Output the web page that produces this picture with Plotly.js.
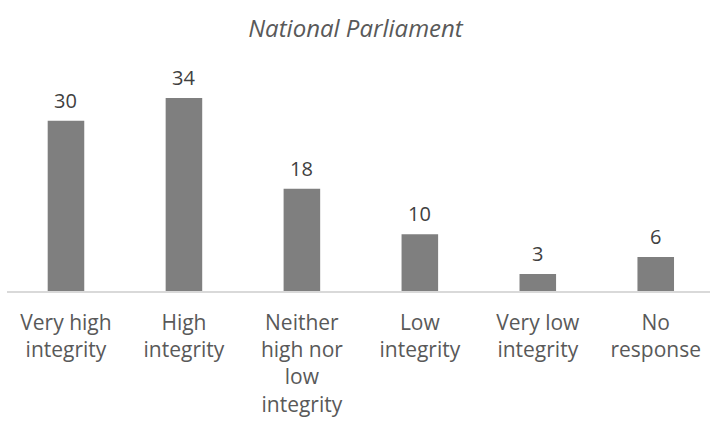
<!DOCTYPE html>
<html><head><meta charset="utf-8">
<script src="https://cdn.plot.ly/plotly-3.0.1.min.js"></script>
<style>html,body{margin:0;padding:0;background:#fff;overflow:hidden}</style>
</head><body><div id="chart" style="width:711px;height:423px"></div>
<script>
var categories = ["Very high<br>integrity","High<br>integrity","Neither<br>high nor<br>low<br>integrity","Low<br>integrity","Very low<br>integrity","No<br>response"];
var values = [30, 34, 18, 10, 3, 6];
var titleText = "National Parliament";

var font = "Open Sans, Liberation Sans, sans-serif";
var annotations = values.map(function(v, i){
  return {x: i, y: v, xref: 'x', yref: 'y', text: String(v), showarrow: false,
    yanchor: 'bottom', yshift: 5, font: {family: font, size: 20, color: '#404040'}};
});

Plotly.newPlot('chart', [{
  type: 'bar', x: [0,1,2,3,4,5], y: values, width: 0.31,
  marker: {color: '#7f7f7f'}, hoverinfo: 'none'
}], {
  width: 711, height: 423,
  margin: {l: 7, r: 1, t: 64, b: 132},
  paper_bgcolor: '#fff', plot_bgcolor: '#fff',
  title: {text: '<i>' + titleText + '</i>', x: 0.5, xanchor: 'center', y: 0.932, yanchor: 'middle',
    font: {family: font, size: 24, color: '#595959'}},
  xaxis: {range: [-0.5, 5.46], tickmode: 'array', tickvals: [0,1,2,3,4,5], ticktext: categories,
    showline: true, linecolor: '#d9d9d9', linewidth: 1.5, showgrid: false, zeroline: false,
    ticks: '', ticklabelstandoff: 12, tickfont: {family: font, size: 21, color: '#595959'}, fixedrange: true},
  yaxis: {range: [0, 40], visible: false, showgrid: false, zeroline: false, fixedrange: true},
  annotations: annotations,
  showlegend: false
}, {displayModeBar: false, staticPlot: true});
</script></body></html>
